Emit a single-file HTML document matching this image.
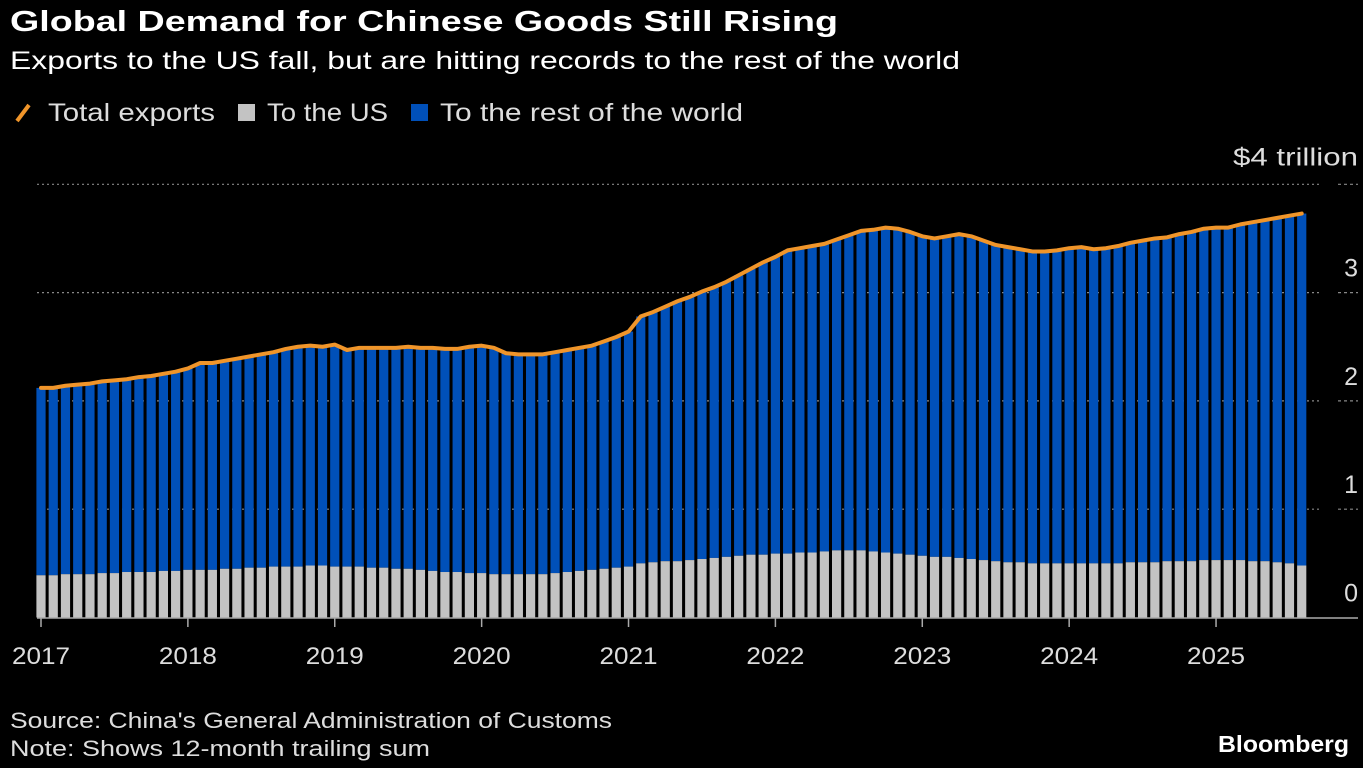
<!DOCTYPE html>
<html><head><meta charset="utf-8"><style>
body{margin:0;background:#000;width:1363px;height:768px;overflow:hidden;font-family:"Liberation Sans",sans-serif;color:#fff}
svg{position:absolute;left:0;top:0}
</style></head><body>
<svg id="c" width="1363" height="768">
<text x="10" y="31" font-size="29" font-weight="bold" fill="#fff" textLength="828" lengthAdjust="spacingAndGlyphs">Global Demand for Chinese Goods Still Rising</text>
<text x="10" y="69" font-size="25" fill="#fff" textLength="950" lengthAdjust="spacingAndGlyphs">Exports to the US fall, but are hitting records to the rest of the world</text>
<g>
<line x1="17" y1="121" x2="29" y2="105" stroke="#f0952a" stroke-width="4"/>
<text x="48" y="121" font-size="25" fill="#ddd" textLength="167" lengthAdjust="spacingAndGlyphs">Total exports</text>
<rect x="238" y="104" width="17" height="17" fill="#c3c3c3"/>
<text x="267" y="121" font-size="25" fill="#ddd" textLength="121" lengthAdjust="spacingAndGlyphs">To the US</text>
<rect x="411" y="104" width="17" height="17" fill="#0050b9"/>
<text x="440" y="121" font-size="25" fill="#ddd" textLength="303" lengthAdjust="spacingAndGlyphs">To the rest of the world</text>
</g>
<g id="grid"></g><g id="bars"></g><g id="line"></g><g id="axes"></g>
<text x="10" y="728" font-size="22" fill="#ddd" textLength="602" lengthAdjust="spacingAndGlyphs">Source: China's General Administration of Customs</text>
<text x="10" y="756" font-size="22" fill="#ddd" textLength="420" lengthAdjust="spacingAndGlyphs">Note: Shows 12-month trailing sum</text>
<text x="1218" y="752" font-size="23" font-weight="bold" fill="#fff" textLength="131" lengthAdjust="spacingAndGlyphs">Bloomberg</text>
</svg>
<script>
const total=[2.12,2.12,2.14,2.15,2.16,2.18,2.19,2.20,2.22,2.23,2.25,2.27,
2.30,2.35,2.35,2.37,2.39,2.41,2.43,2.45,2.48,2.50,2.51,2.50,
2.52,2.47,2.49,2.49,2.49,2.49,2.50,2.49,2.49,2.48,2.48,2.50,
2.51,2.49,2.44,2.43,2.43,2.43,2.45,2.47,2.49,2.51,2.55,2.59,
2.64,2.78,2.82,2.87,2.92,2.96,3.01,3.05,3.10,3.16,3.22,3.28,
3.33,3.39,3.41,3.43,3.45,3.49,3.53,3.57,3.58,3.60,3.59,3.56,
3.52,3.50,3.52,3.54,3.52,3.48,3.44,3.42,3.40,3.38,3.38,3.39,
3.41,3.42,3.40,3.41,3.43,3.46,3.48,3.50,3.51,3.54,3.56,3.59,
3.60,3.60,3.63,3.65,3.67,3.69,3.71,3.73];
const us=[0.39,0.39,0.40,0.40,0.40,0.41,0.41,0.42,0.42,0.42,0.43,0.43,
0.44,0.44,0.44,0.45,0.45,0.46,0.46,0.47,0.47,0.47,0.48,0.48,
0.47,0.47,0.47,0.46,0.46,0.45,0.45,0.44,0.43,0.42,0.42,0.41,
0.41,0.40,0.40,0.40,0.40,0.40,0.41,0.42,0.43,0.44,0.45,0.46,
0.47,0.50,0.51,0.52,0.52,0.53,0.54,0.55,0.56,0.57,0.58,0.58,
0.59,0.59,0.60,0.60,0.61,0.62,0.62,0.62,0.61,0.60,0.59,0.58,
0.57,0.56,0.56,0.55,0.54,0.53,0.52,0.51,0.51,0.50,0.50,0.50,
0.50,0.50,0.50,0.50,0.50,0.51,0.51,0.51,0.52,0.52,0.52,0.53,
0.53,0.53,0.53,0.52,0.52,0.51,0.50,0.48];
const yTicks=[0,1,2,3,4];
const yLabels=["0","1","2","3","$4 trillion"];
const years=["2017","2018","2019","2020","2021","2022","2023","2024","2025"];
const NS="http://www.w3.org/2000/svg";
const x0=41,step=12.24,y0=617.5,k=108.3;
const X=i=>x0+i*step, Y=v=>y0-v*k;
function mk(t,a,p){const e=document.createElementNS(NS,t);for(const q in a)e.setAttribute(q,a[q]);document.getElementById(p).appendChild(e);return e;}
yTicks.forEach((t,j)=>{
 if(t>0){const g=mk('line',{x1:37,x2:1322,y1:Y(t),y2:Y(t),stroke:'#888','stroke-width':1.2,'stroke-dasharray':'2 3'},'grid');
 
 
 const g2=mk('line',{x1:1338,x2:1358,y1:Y(t),y2:Y(t),stroke:'#888','stroke-width':1.2,'stroke-dasharray':'3 3'},'grid');
 
 }
 const a={x:1358,y:Y(t)-(t==4?19:16),'font-size':25,fill:'#ddd','text-anchor':'end'};
 if(t==4){a.textLength=125;a.lengthAdjust='spacingAndGlyphs';}
 const tx=mk('text',a,'axes');
 tx.textContent=yLabels[j];
 
 
});
total.forEach((v,i)=>{
 const u=us[i];
 const r1=mk('rect',{x:X(i)-4.6,y:Y(v),width:9.2,height:(v-u)*k,fill:'#0050b9'},'bars');
 
 
 const r2=mk('rect',{x:X(i)-4.6,y:Y(u),width:9.2,height:u*k,fill:'#c3c3c3'},'bars');
 
 
});
const pl=mk('polyline',{points:total.map((v,i)=>X(i)+','+Y(v)).join(' '),fill:'none',stroke:'#f0952a','stroke-width':4,'stroke-linejoin':'round','stroke-linecap':'round'},'line');


const ax=mk('line',{x1:37,x2:1358,y1:618,y2:618,stroke:'#aaa','stroke-width':1.5},'axes');


years.forEach((yr,j)=>{
 const x=X(j*12);
 const t=mk('line',{x1:x,x2:x,y1:618,y2:627,stroke:'#aaa','stroke-width':1.5},'axes');
 
 
 const l=mk('text',{x:x,y:664,'font-size':24,fill:'#ddd','text-anchor':'middle',textLength:58,lengthAdjust:'spacingAndGlyphs'},'axes');
 l.textContent=yr;
 
 
});
</script>
</body></html>
